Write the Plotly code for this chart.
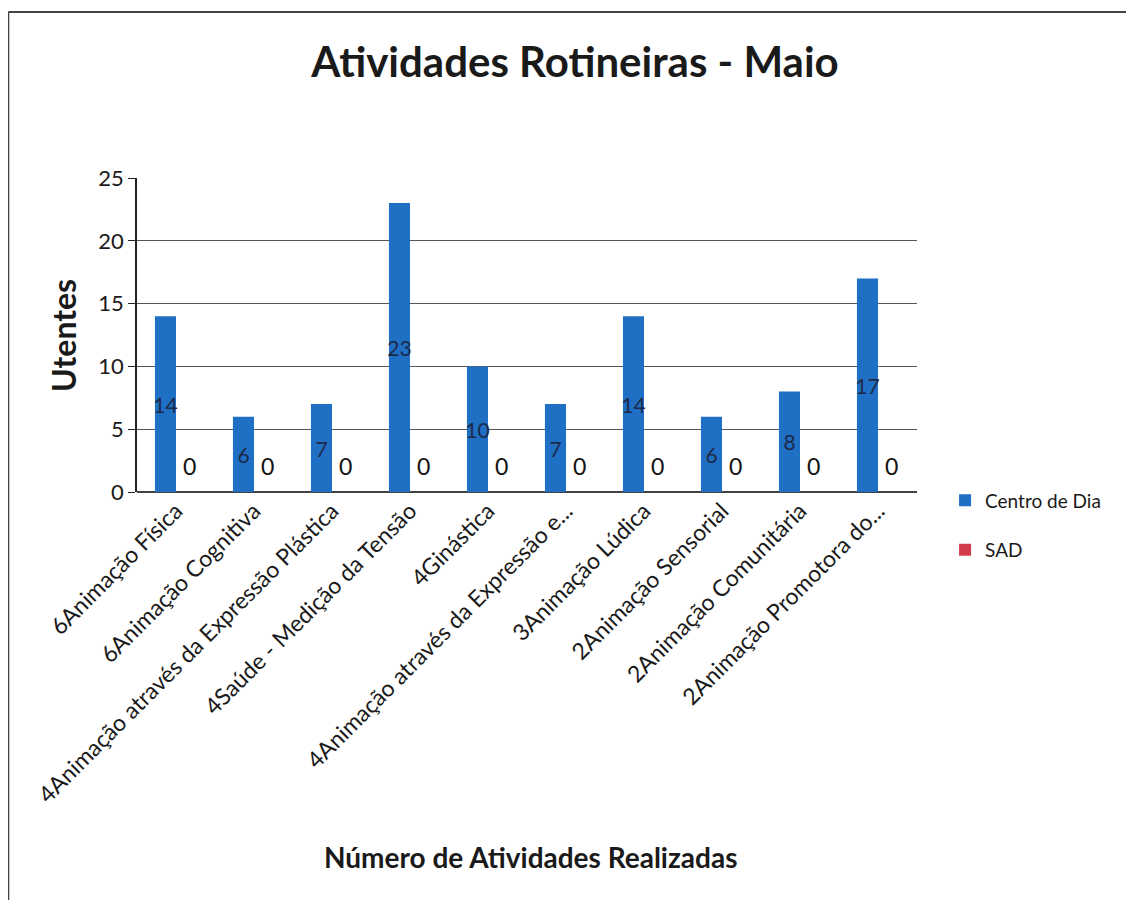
import plotly.graph_objects as go

# Data
categorias = [
    "6Animação Física",
    "6Animação Cognitiva",
    "4Animação através da Expressão Plástica",
    "4Saúde - Medição da Tensão",
    "4Ginástica",
    "4Animação através da Expressão e...",
    "3Animação Lúdica",
    "2Animação Sensorial",
    "2Animação Comunitária",
    "2Animação Promotora do...",
]
centro_de_dia = [14, 6, 7, 23, 10, 7, 14, 6, 8, 17]
sad = [0, 0, 0, 0, 0, 0, 0, 0, 0, 0]
y_ticks = [0, 5, 10, 15, 20, 25]

FONT = "Lato, Calibri, sans-serif"
BLUE = "#1f6fc5"
RED = "#d23c4a"

fig = go.Figure()

fig.add_trace(go.Bar(
    x=categorias, y=centro_de_dia, name="Centro de Dia",
    marker=dict(color=BLUE, line=dict(width=0)),
    text=centro_de_dia, textposition="inside", insidetextanchor="middle",
    constraintext="none",
    textfont=dict(color="#1c2a48", size=21, family=FONT),
    legendgroup="a",
))
fig.add_trace(go.Bar(
    x=categorias, y=sad, name="SAD",
    marker=dict(color=RED, line=dict(width=0)),
    legendgroup="b",
))

# SAD value labels (zero-height bars) sit a little above the baseline
for cat, val in zip(categorias, sad):
    fig.add_annotation(x=cat, y=val, xref="x", yref="y", text=str(val),
                       showarrow=False, xanchor="center", yanchor="middle",
                       xshift=13, yshift=26,
                       font=dict(size=23, family=FONT, color="#111111"))

fig.update_layout(
    width=1134, height=900,
    paper_bgcolor="white", plot_bgcolor="white",
    font=dict(family=FONT, color="#1a1a1a"),
    margin=dict(l=129, r=225, t=170, b=416),
    barmode="group", bargap=0.46, bargroupgap=0,
    title=dict(text="<b>Atividades Rotineiras - Maio</b>", x=0.5, xanchor="center",
               y=0.94, yanchor="middle", font=dict(size=42, family=FONT, color="#1a1a1a")),
    legend=dict(x=1.036, xanchor="left", y=0.034, yanchor="top",
                font=dict(size=19, family=FONT, color="#1a1a1a"),
                tracegroupgap=22, itemwidth=30),
    showlegend=True,
)

fig.update_xaxes(
    tickangle=-45, tickfont=dict(size=23, family=FONT, color="#1a1a1a"),
    showgrid=False, showline=False, ticks="", automargin=False,
)
fig.update_yaxes(
    range=[0, 25], tickvals=y_ticks, tickfont=dict(size=22, family=FONT, color="#1a1a1a"),
    showgrid=True, gridcolor="#555555", gridwidth=1,
    zeroline=True, zerolinecolor="#444444", zerolinewidth=1.5,
    showline=True, linecolor="#222222", linewidth=1.5,
    ticks="outside", ticklen=7, tickcolor="#222222", automargin=False,
)

fig.add_annotation(text="<b>Utentes</b>", xref="paper", yref="paper",
                   x=-0.095, y=0.5, xanchor="center", yanchor="middle",
                   textangle=-90, showarrow=False,
                   font=dict(size=32, family=FONT, color="#1a1a1a"))
fig.add_annotation(text="<b>Número de Atividades Realizadas</b>", xref="paper", yref="paper",
                   x=0.505, y=-1.162, xanchor="center", yanchor="middle",
                   showarrow=False, font=dict(size=28, family=FONT, color="#1a1a1a"))

# outer chart frame (scanned page border)
fig.add_shape(type="line", xref="paper", yref="paper", x0=-0.165, x1=1.4, y0=1.529, y1=1.529,
              line=dict(color="#444444", width=2))
fig.add_shape(type="line", xref="paper", yref="paper", x0=-0.165, x1=-0.165, y0=1.529, y1=-1.4,
              line=dict(color="#444444", width=2))

fig.write_html("out.html")
